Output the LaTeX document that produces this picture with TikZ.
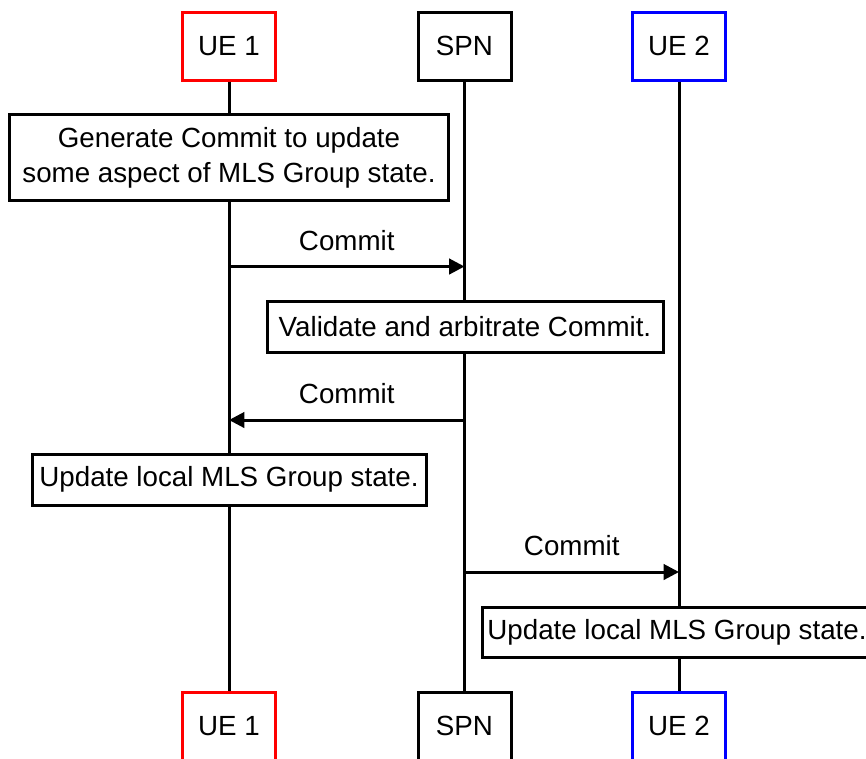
\documentclass[tikz,border=0pt]{standalone}
\usepackage{fontspec}
\setmainfont{Liberation Sans}
\usetikzlibrary{arrows.meta}
\begin{document}
\begin{tikzpicture}[x=0.75pt,y=-0.75pt,
  every node/.style={font=\fontsize{20.8}{26}\selectfont, inner sep=0pt, align=center},
  head/.style={draw, line width=2.25pt, fill=white, minimum width=69.75pt, minimum height=51pt},
  actbox/.style={draw, line width=2.25pt, fill=white},
  lifeline/.style={line width=2.25pt},
  msg/.style={line width=2.25pt, -{Triangle[length=11.5pt,width=11.5pt]}},
  msglabel/.style={fill=white, inner sep=1pt}]
\useasboundingbox (0,0) rectangle (866,758);
\clip (0,0) rectangle (866,758);

% participants
\node[head, draw=red]  (ue1)  at (229,46) {UE 1};
\node[head]            (spn)  at (464.5,46) {SPN};
\node[head, draw=blue] (ue2)  at (679,46) {UE 2};
\node[head, draw=red]  (ue1b) at (229,726) {UE 1};
\node[head]            (spnb) at (464.5,726) {SPN};
\node[head, draw=blue] (ue2b) at (679,726) {UE 2};

% lifelines
\draw[lifeline] (ue1) -- (ue1b);
\draw[lifeline] (spn) -- (spnb);
\draw[lifeline] (ue2) -- (ue2b);

% actions
\node[actbox, minimum width=329.25pt, minimum height=64.5pt] (gen) at (229,157.5)
  {Generate Commit to update\\some aspect of MLS Group state.};
\node[actbox, minimum width=297pt, minimum height=38.25pt] (val) at (465,326.5)
  {Validate and arbitrate Commit.};
\node[actbox, minimum width=295.5pt, minimum height=38.25pt] (upd1) at (229,479.5)
  {Update local MLS Group state.};
% the last action frame runs past the right edge of the page
\path[actbox] (482,607) rectangle (876,657);
\node (upd2) at (677,632) {Update local MLS Group state.};

% messages
\coordinate (m1) at (0,266.5);
\coordinate (m2) at (0,420);
\coordinate (m3) at (0,572);
\draw[msg] (ue1 |- m1) -- node[msglabel, above=10pt] {Commit} (spn |- m1);
\draw[msg] (spn |- m2) -- node[msglabel, above=10pt] {Commit} (ue1 |- m2);
\draw[msg] (spn |- m3) -- node[msglabel, above=10pt] {Commit} (ue2 |- m3);
\end{tikzpicture}
\end{document}
